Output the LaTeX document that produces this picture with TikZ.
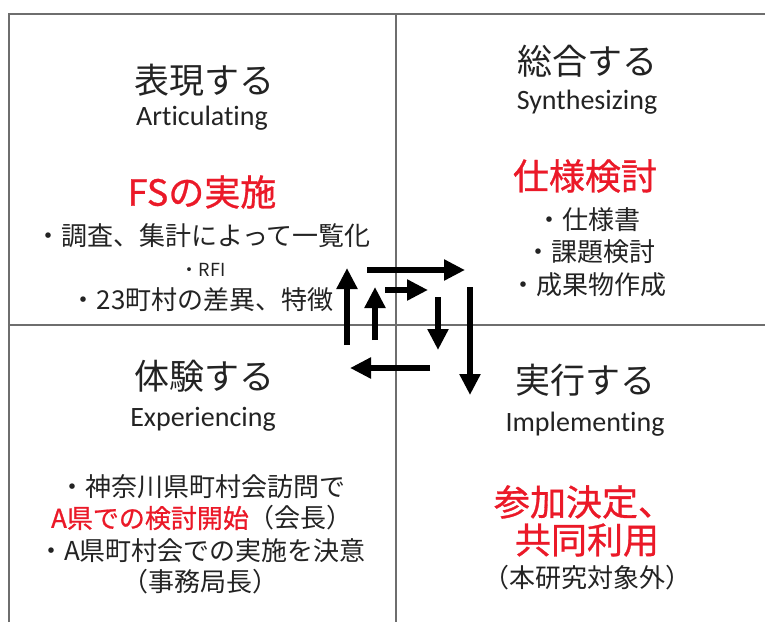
\documentclass[tikz,border=0pt]{standalone}
\usepackage{fontspec}
\setmainfont{Carlito}[Ligatures={NoCommon}]
\newfontfamily\jp{Noto Sans CJK JP}
\newfontfamily\jph{Noto Sans CJK JP}[FakeBold=0.8]
\usetikzlibrary{arrows.meta}
\definecolor{ink}{RGB}{35,35,35}
\definecolor{redtxt}{RGB}{235,25,40}
\definecolor{framegray}{RGB}{110,110,110}
\begin{document}
\begin{tikzpicture}[x=1pt,y=-1pt,
  frame/.style={draw=framegray,line width=1.6pt},
  title/.style={font=\jp\fontsize{35}{40}\selectfont,text=ink,inner sep=0pt},
  eng/.style={font=\fontsize{28}{30}\selectfont,text=ink,inner sep=0pt},
  head/.style={font=\jph\fontsize{36}{40}\selectfont,text=redtxt,inner sep=0pt},
  body/.style={font=\jp\fontsize{26}{30}\selectfont,text=ink,inner sep=0pt},
  small/.style={font=\jp\fontsize{18}{22}\selectfont,text=ink,inner sep=0pt},
  flow/.style={line width=5.5pt,-{Triangle[length=21pt,width=20pt]}}]
\useasboundingbox (0,0) rectangle (765,622);
\fill[white] (0,0) rectangle (765,622);
% frame
\draw[frame] (9,622) -- (9,14) -- (765,14);
\draw[frame] (396,14) -- (396,622);
\draw[frame] (9,325) -- (765,325);
% top-left
\node[title] (tl1) at (204,80) {表現する};
\node[eng] (tl2) at (202,118) {Articulating};
\node[head] (tl3) at (202,192) {FSの実施};
\node[body] (tl4) at (203,236) {・調査、集計によって一覧化};
\node[small] (tl5) at (203,270) {・RFI};
\node[body] (tl6) at (202,300) {・23町村の差異、特徴};
% top-right
\node[title] (tr1) at (587,61) {総合する};
\node[eng] (tr2) at (587,102) {Synthesizing};
\node[head] (tr3) at (585,176) {仕様検討};
\node[body] (tr4) at (588,220) {・仕様書};
\node[body] (tr5) at (590,252) {・課題検討};
\node[body] (tr6) at (588,285) {・成果物作成};
% bottom-left
\node[title] (bl1) at (204,376) {体験する};
\node[eng] (bl2) at (203,419) {Experiencing};
\node[body] (bl3) at (202,487) {・神奈川県町村会訪問で};
\node[body] (bl4) at (202,518) {{\jph\color{redtxt}A県での検討開始}（会長）};
\node[body] (bl5) at (202,551) {・A県町村会での実施を決意};
\node[body] (bl6) at (200,582) {（事務局長）};
% bottom-right
\node[title] (br1) at (585,380) {実行する};
\node[eng] (br2) at (585,424) {Implementing};
\node[head] (br3) at (584,502) {参加決定、};
\node[head] (br4) at (587,540) {共同利用};
\node[body] (br5) at (587,578) {（本研究対象外）};
% arrows
\coordinate (a1s) at (367,270); \coordinate (a1e) at (465,270);
\coordinate (a2s) at (385,290); \coordinate (a2e) at (428,290);
\coordinate (a3s) at (438,297); \coordinate (a3e) at (438,350);
\coordinate (a4s) at (470,287); \coordinate (a4e) at (470,395);
\coordinate (a5s) at (430,368); \coordinate (a5e) at (350,368);
\coordinate (a6s) at (347,345); \coordinate (a6e) at (347,268);
\coordinate (a7s) at (375,340); \coordinate (a7e) at (375,287);
\draw[flow] (a1s) -- (a1e);
\draw[flow] (a2s) -- (a2e);
\draw[flow] (a3s) -- (a3e);
\draw[flow] (a4s) -- (a4e);
\draw[flow] (a5s) -- (a5e);
\draw[flow] (a6s) -- (a6e);
\draw[flow] (a7s) -- (a7e);
\end{tikzpicture}
\end{document}
